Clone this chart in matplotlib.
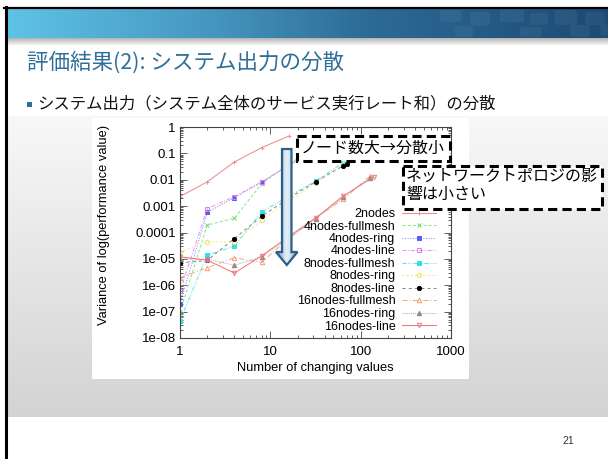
import numpy as np
import matplotlib.pyplot as plt
from matplotlib.patches import Rectangle, FancyBboxPatch, Polygon
from matplotlib.colors import to_rgb
from matplotlib.ticker import FixedLocator, LogLocator, NullFormatter

plt.rcParams['font.family'] = ['Liberation Sans', 'DejaVu Sans']
JP = ['Noto Sans CJK JP', 'DejaVu Sans']

# ---- data: variance of log(performance value) vs number of changing values
x_2 = [1, 2, 4, 8, 16]
v_2nodes = [0.0023, 0.0083, 0.047, 0.165, 0.45]

x_4 = [1, 2, 4, 8, 16, 32]
v_4_fullmesh = [9.5e-8, 1.9e-4, 3.5e-4, 7.0e-3, 0.040, 0.16]
v_4_ring = [2.0e-7, 5.8e-4, 2.1e-3, 8.0e-3, 0.035, 0.14]
v_4_line = [5.9e-7, 8.0e-4, 2.3e-3, 8.2e-3, 0.036, 0.15]

x_8 = [1, 2, 4, 8, 16, 32, 64]
x_8_line = [1, 2, 4, 8, 16, 32, 64, 70]
v_8_fullmesh = [4.5e-8, 1.4e-5, 3.0e-5, 6.0e-4, 2.4e-3, 9.0e-3, 0.045]
v_8_ring = [1.8e-5, 4.4e-5, 4.4e-5, 2.9e-4, 1.6e-3, 7.5e-3, 0.040]
v_8_line = [7.0e-6, 8.7e-6, 5.9e-5, 4.1e-4, 2.0e-3, 8.5e-3, 0.034, 0.041]

x_16 = [1, 2, 4, 8, 16, 32, 64, 128]
x_16_line = [1, 2, 4, 8, 16, 32, 64, 140]
v_16_fullmesh = [1.9e-6, 4.6e-6, 1.1e-5, 7.4e-6, 6.0e-5, 3.7e-4, 1.8e-3, 0.014]
v_16_ring = [1.0e-5, 9.8e-6, 5.7e-6, 1.2e-5, 6.0e-5, 3.3e-4, 2.2e-3, 0.012]
v_16_line = [1.2e-5, 8.9e-6, 2.9e-6, 1.3e-5, 7.0e-5, 3.6e-4, 2.4e-3, 0.013]

x_ticks = [1, 10, 100, 1000]
x_tick_labels = ['1', '10', '100', '1000']
y_ticks = [1e-8, 1e-7, 1e-6, 1e-5, 1e-4, 1e-3, 1e-2, 1e-1, 1]
y_tick_labels = ['1e-08', '1e-07', '1e-06', '1e-05', '0.0001', '0.001', '0.01', '0.1', '1']

# (label, x, y, line colour, marker colour, linestyle, marker, filled)
series = [
    ('2nodes', x_2, v_2nodes, '#f28c8c', '#f28c8c', '-', '+', True),
    ('4nodes-fullmesh', x_4, v_4_fullmesh, '#8fe68f', '#6fd86f', (0, (3, 2)), 'x', True),
    ('4nodes-ring', x_4, v_4_ring, '#8a8af2', '#5a5aee', (0, (1, 1.5)), 's', True),
    ('4nodes-line', x_4, v_4_line, '#e896f2', '#d77ef0', (0, (4, 1.5, 1, 1.5)), 's', False),
    ('8nodes-fullmesh', x_8, v_8_fullmesh, '#5ee6ee', '#2ee0ec', (0, (4, 1.5, 1, 1.5, 1, 1.5)), 's', True),
    ('8nodes-ring', x_8, v_8_ring, '#f0ec86', '#ece070', (0, (2, 2)), 'o', False),
    ('8nodes-line', x_8_line, v_8_line, '#8a8a8a', '#000000', (0, (3, 3)), 'o', True),
    ('16nodes-fullmesh', x_16, v_16_fullmesh, '#f4aa88', '#f49a78', (0, (5, 2, 1, 2)), '^', False),
    ('16nodes-ring', x_16, v_16_ring, '#b4b4b4', '#8c8c8c', (0, (1, 1)), '^', True),
    ('16nodes-line', x_16_line, v_16_line, '#f27878', '#f27878', '-', 'v', False),
]

W, H = 608, 459
fig = plt.figure(figsize=(W / 100, H / 100), dpi=100)


def colour_ramp(stops, n):
    pos = np.linspace(0, 1, n)
    p = [s[0] for s in stops]
    cols = np.array([to_rgb(s[1]) for s in stops])
    return np.stack([np.interp(pos, p, cols[:, i]) for i in range(3)], axis=-1)


# ---- slide background (pixel coordinates, y downwards)
bg = fig.add_axes([0, 0, 1, 1], zorder=0)
bg.set_xlim(0, W)
bg.set_ylim(H, 0)
bg.axis('off')

band = colour_ramp([(0, '#5fc3e6'), (0.35, '#4595bf'), (0.6, '#2c6b96'), (1, '#1c4a74')], 400)
bg.imshow(band[None, :, :], extent=(7, W, 38.5, 8.5), aspect='auto', zorder=1)
for bx, by, bw, bh in [(440, 10, 22, 12), (470, 12, 20, 14), (500, 9, 24, 13), (530, 13, 18, 12),
                       (555, 10, 22, 15), (585, 12, 20, 13), (455, 26, 18, 11), (520, 27, 22, 10),
                       (570, 25, 20, 12), (600, 24, 8, 12)]:
    bg.add_patch(FancyBboxPatch((bx, by), bw, bh, boxstyle='round,pad=0,rounding_size=3',
                                fc='white', ec='none', alpha=0.05, zorder=2))
shadow = colour_ramp([(0, '#b4b4b4'), (1, '#ffffff')], 50)
bg.imshow(shadow[:, None, :], extent=(7, W, 46, 38.5), aspect='auto', zorder=1)
gray = colour_ramp([(0, '#f8f8f8'), (1, '#d3d3d3')], 200)
bg.imshow(gray[:, None, :], extent=(7, W, 417, 116), aspect='auto', zorder=1)
bg.add_patch(Rectangle((92, 118), 377, 261, fc='white', ec='none', zorder=2))
bg.plot([4, W], [7.8, 7.8], color='black', lw=1.6, zorder=3)
bg.plot([5.6, 5.6], [7, H], color='black', lw=2.2, zorder=3)

fig.text(27 / W, 1 - 62 / H, '評価結果(2): システム出力の分散', fontsize=15.5,
         color='#2f6f99', va='center', family=JP)
bg.add_patch(Rectangle((27, 101.5), 4.5, 5, fc='#2f6f99', ec='none', zorder=3))
fig.text(37 / W, 1 - 104 / H, 'システム出力（システム全体のサービス実行レート和）の分散',
         fontsize=11.8, color='#111111', va='center', family=JP)
fig.text(568 / W, 1 - 441 / H, '21', fontsize=7.5, color='#333333', ha='center', va='center')

# ---- chart
ax = fig.add_axes([180 / W, 1 - 338 / H, (451 - 180) / W, (338 - 127) / H], zorder=2)
for label, xs, ys, lc, mc, ls, mk, filled in series:
    ax.plot(xs, ys, color=lc, lw=0.75, ls=ls, marker=mk, ms=3.2 if mk not in 'ox' else 3.0,
            mec=mc, mfc=mc if filled else 'none', mew=0.7, label=label)

ax.set_xscale('log')
ax.set_yscale('log')
ax.set_xlim(1, 1000)
ax.set_ylim(1e-8, 1)
ax.xaxis.set_major_locator(FixedLocator(x_ticks))
ax.set_xticklabels(x_tick_labels)
ax.yaxis.set_major_locator(FixedLocator(y_ticks))
ax.set_yticklabels(y_tick_labels)
ax.xaxis.set_minor_locator(LogLocator(subs=np.arange(2, 10)))
ax.yaxis.set_minor_locator(LogLocator(subs=np.arange(2, 10), numticks=20))
ax.xaxis.set_minor_formatter(NullFormatter())
ax.yaxis.set_minor_formatter(NullFormatter())
ax.tick_params(which='both', direction='in', top=True, right=True, colors='#444444',
               labelcolor='black', labelsize=9.5, width=0.6)
ax.tick_params(which='major', length=5)
ax.tick_params(which='minor', length=2.5)
ax.tick_params(axis='y', pad=3)
ax.tick_params(axis='x', pad=6)
for sp in ax.spines.values():
    sp.set_color('#444444')
    sp.set_linewidth(0.8)

ax.text(0.5, (338 - 368) / 211, 'Number of changing values', transform=ax.transAxes,
        ha='center', va='center', fontsize=9.3)
ax.text((104 - 180) / 271, (338 - 225) / 211, 'Variance of log(performance value)',
        transform=ax.transAxes, ha='center', va='center', rotation=90, fontsize=9.3)

ax.legend(loc='upper right', bbox_to_anchor=(436 / W, 1 - 208 / H), bbox_transform=fig.transFigure,
          frameon=False, markerfirst=False, fontsize=9, handlelength=2.7, handletextpad=0.55,
          labelspacing=0.04, borderpad=0, borderaxespad=0, numpoints=1)

# ---- annotations drawn over the chart
ov = fig.add_axes([0, 0, 1, 1], zorder=5)
ov.set_xlim(0, W)
ov.set_ylim(H, 0)
ov.axis('off')
ov.patch.set_alpha(0)

arrow_pts = [(282, 149), (291.5, 149), (291.5, 252), (297.5, 252), (286.8, 265),
             (276, 252), (282, 252)]
arrow = Polygon(arrow_pts, closed=True, fc='none', ec='#2e5f87', lw=1.6, zorder=6)
ov.add_patch(arrow)
shade = colour_ramp([(0, '#5d8fb8'), (0.45, '#e4eef6'), (0.6, '#dce8f2'), (1, '#5d8fb8')], 64)
img = ov.imshow(shade[None, :, :], extent=(276, 297.5, 265, 149), aspect='auto', zorder=5)
img.set_clip_path(Polygon(arrow_pts, closed=True, transform=ov.transData))

dash = (0, (3, 1.7))
ov.add_patch(Rectangle((297, 136), 152.5, 24.5, fc='white', ec='black', lw=2.2, ls=dash, zorder=6))
ov.text(373, 148, 'ノード数大→分散小', fontsize=11.5, ha='center', va='center', family=JP, zorder=7)
ov.add_patch(Rectangle((403, 165.5), 199, 43.5, fc='white', ec='black', lw=2.2, ls=dash, zorder=6))
ov.text(406, 176, 'ネットワークトポロジの影', fontsize=11.5, va='center', family=JP, zorder=7)
ov.text(406, 194, '響は小さい', fontsize=11.5, va='center', family=JP, zorder=7)

fig.savefig('out.png', dpi=100)
